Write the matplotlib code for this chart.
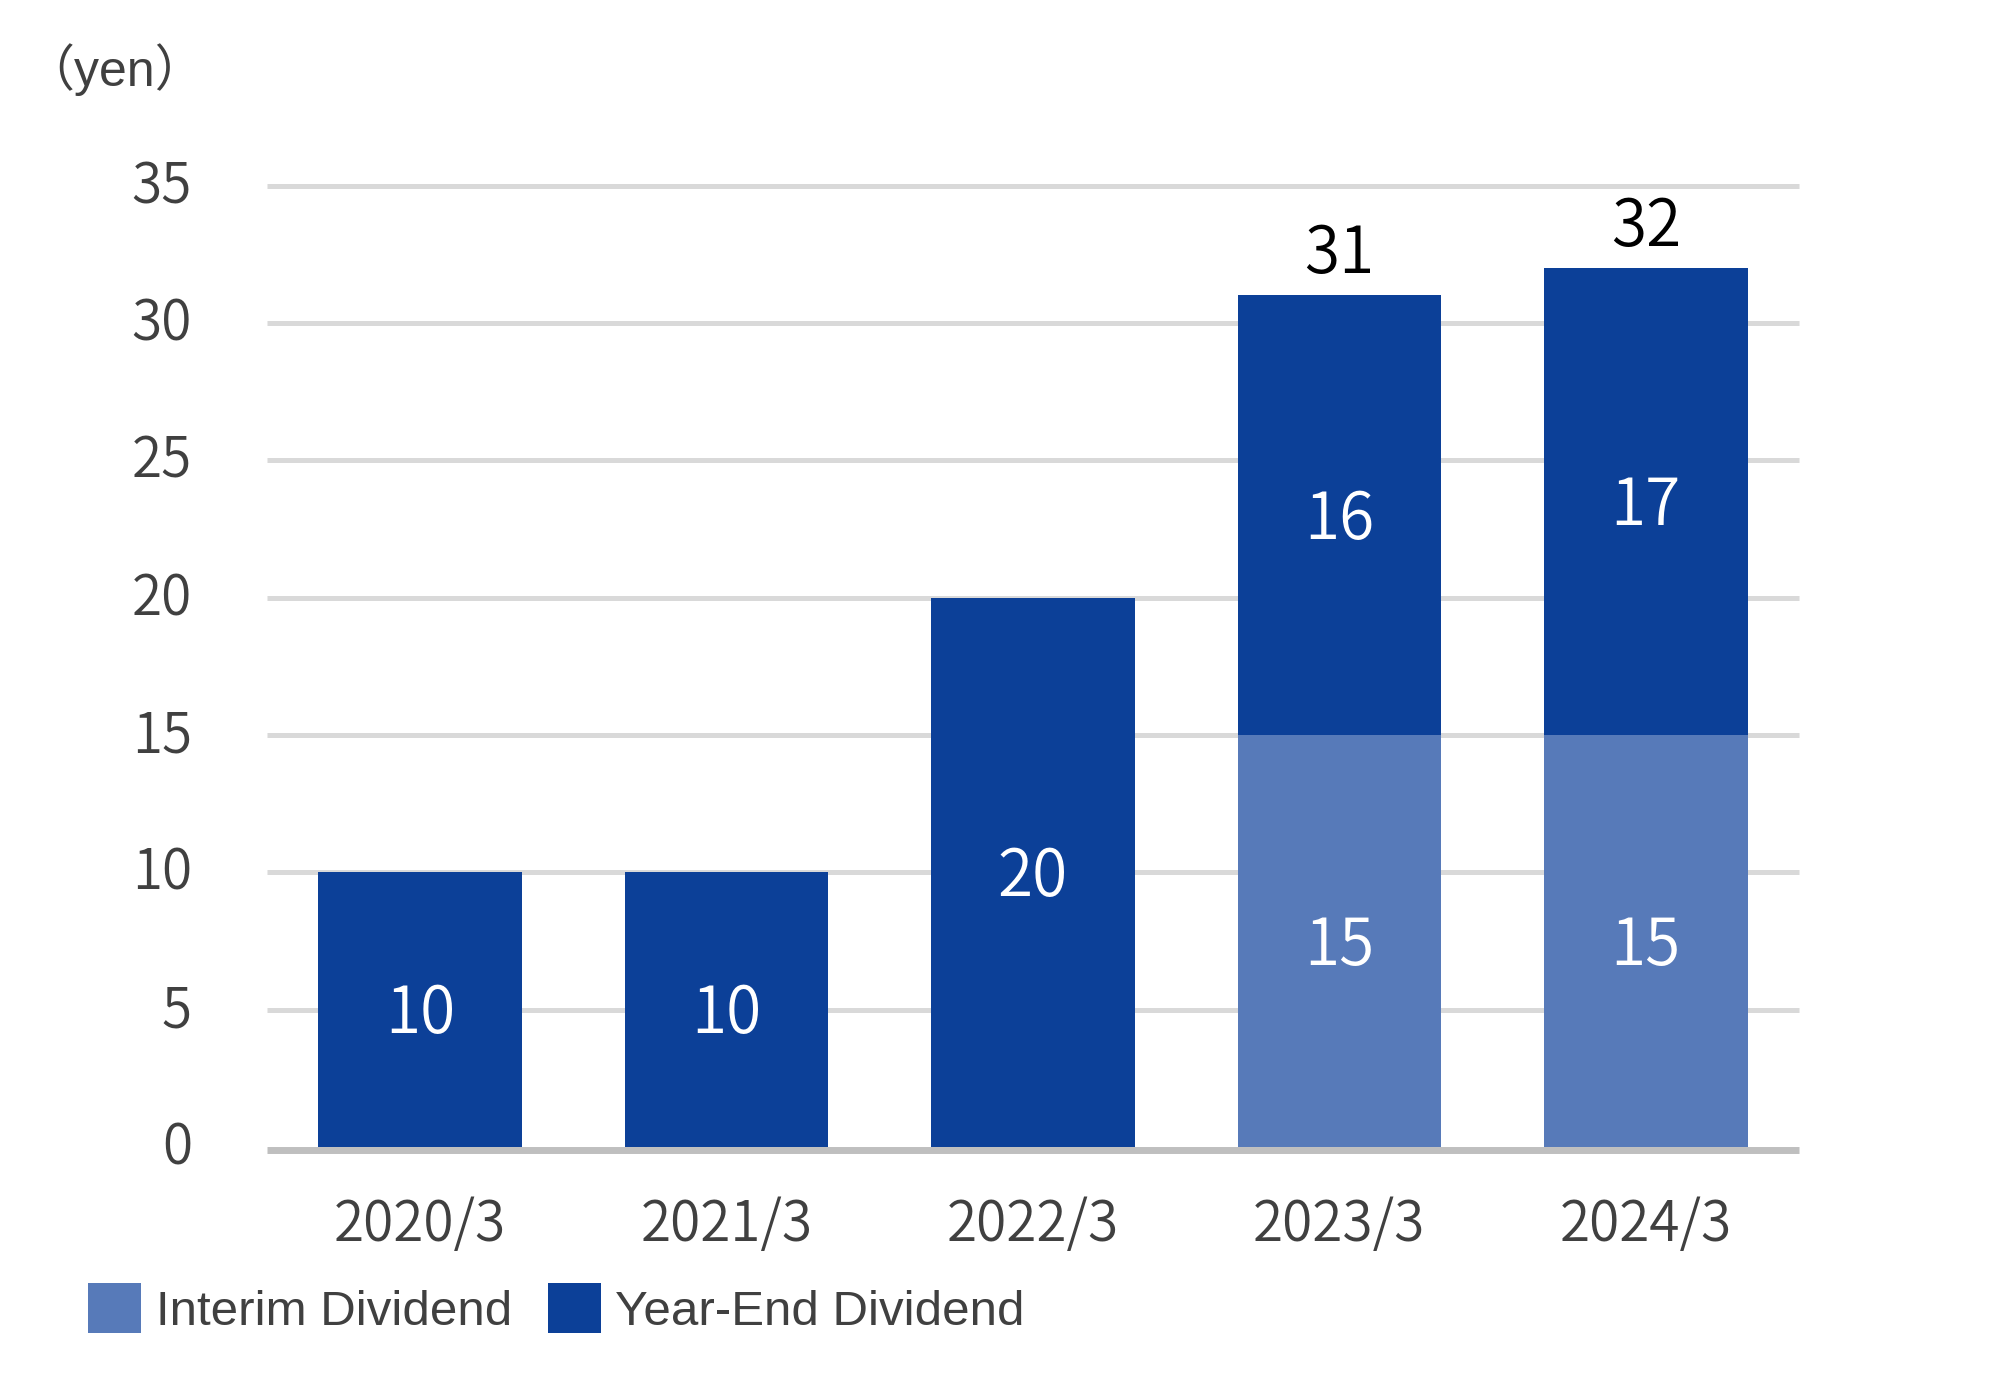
import matplotlib
matplotlib.use("Agg")
import matplotlib.pyplot as plt
from matplotlib.patches import Patch
from matplotlib.transforms import ScaledTranslation

categories = ["2020/3", "2021/3", "2022/3", "2023/3", "2024/3"]
interim = [0, 0, 0, 15, 15]
year_end = [10, 10, 20, 16, 17]
totals = [10, 10, 20, 31, 32]
yticks = [0, 5, 10, 15, 20, 25, 30, 35]

C_INTERIM = "#577AB9"
C_YEAREND = "#0C4098"
TXT = "#404040"
NUM_FONT = ["Noto Sans CJK JP", "DejaVu Sans"]
LAT_FONT = ["Liberation Sans", "Noto Sans CJK JP", "DejaVu Sans"]

fig = plt.figure(figsize=(20, 13.96), dpi=100)
ax = fig.add_axes([0.1335, 0.17837, 0.766, 0.68868])

x = list(range(len(categories)))
w = 0.665
ax.bar(x, interim, width=w, color=C_INTERIM, zorder=3, linewidth=0)
ax.bar(x, year_end, width=w, bottom=interim, color=C_YEAREND, zorder=3, linewidth=0)

ax.set_xlim(-0.5, 4.5)
ax.set_ylim(0, 35)
ax.set_yticks(yticks)
ax.set_xticks(x)
ax.set_xticklabels(categories)
for t in yticks[1:]:
    ax.axhline(t, color="#D9D9D9", lw=3.6, zorder=1, clip_on=False,
               solid_capstyle="butt")

for s in ["top", "right", "left"]:
    ax.spines[s].set_visible(False)
ax.spines["bottom"].set_color("#BFBFBF")
ax.spines["bottom"].set_linewidth(5)
ax.spines["bottom"].set_capstyle("butt")
ax.spines["bottom"].set_position(("outward", 2.5))
ax.spines["bottom"].set_zorder(4)

ax.tick_params(axis="both", length=0, colors=TXT, labelsize=39.5)
ax.tick_params(axis="y", pad=54)
ax.tick_params(axis="x", pad=33)
up = ScaledTranslation(0, 5 / 100, fig.dpi_scale_trans)
for lab in ax.get_yticklabels():
    lab.set_transform(lab.get_transform() + up)
for lab in ax.get_xticklabels() + ax.get_yticklabels():
    lab.set_family(NUM_FONT)
    lab.set_color(TXT)
    lab.set_weight(350)

# segment labels
for i in x:
    if interim[i] > 0:
        ax.annotate(str(interim[i]), (i, interim[i] / 2), xytext=(0, -17),
                    textcoords="offset points", ha="center", va="baseline",
                    color="white", fontsize=46, family=NUM_FONT, weight=350,
                    zorder=5)
    ax.annotate(str(year_end[i]), (i, interim[i] + year_end[i] / 2), xytext=(0, -17),
                textcoords="offset points", ha="center", va="baseline",
                color="white", fontsize=46, family=NUM_FONT, weight=350, zorder=5)
    if interim[i] > 0:
        ax.annotate(str(totals[i]), (i, totals[i]), xytext=(0, 16),
                    textcoords="offset points", ha="center", va="baseline",
                    color="black", fontsize=46, family=NUM_FONT, weight=350,
                    zorder=5)

fig.text(24 / 2000, 1 - 86 / 1396, "\uff08yen\uff09", ha="left", va="baseline",
         fontsize=36, color=TXT, family=LAT_FONT)

handles = [Patch(facecolor=C_INTERIM, edgecolor="none", label="Interim Dividend"),
           Patch(facecolor=C_YEAREND, edgecolor="none", label="Year-End Dividend")]
leg = fig.legend(handles=handles, loc="center left",
                 bbox_to_anchor=(88 / 2000, 1 - 1309 / 1396), ncol=2,
                 frameon=False, prop={"family": LAT_FONT, "size": 35.5},
                 handlelength=1.07, handleheight=1.18, handletextpad=0.3,
                 columnspacing=0.73, borderpad=0, borderaxespad=0)
for t in leg.get_texts():
    t.set_color(TXT)

fig.savefig("out.png", dpi=100, facecolor="white")
